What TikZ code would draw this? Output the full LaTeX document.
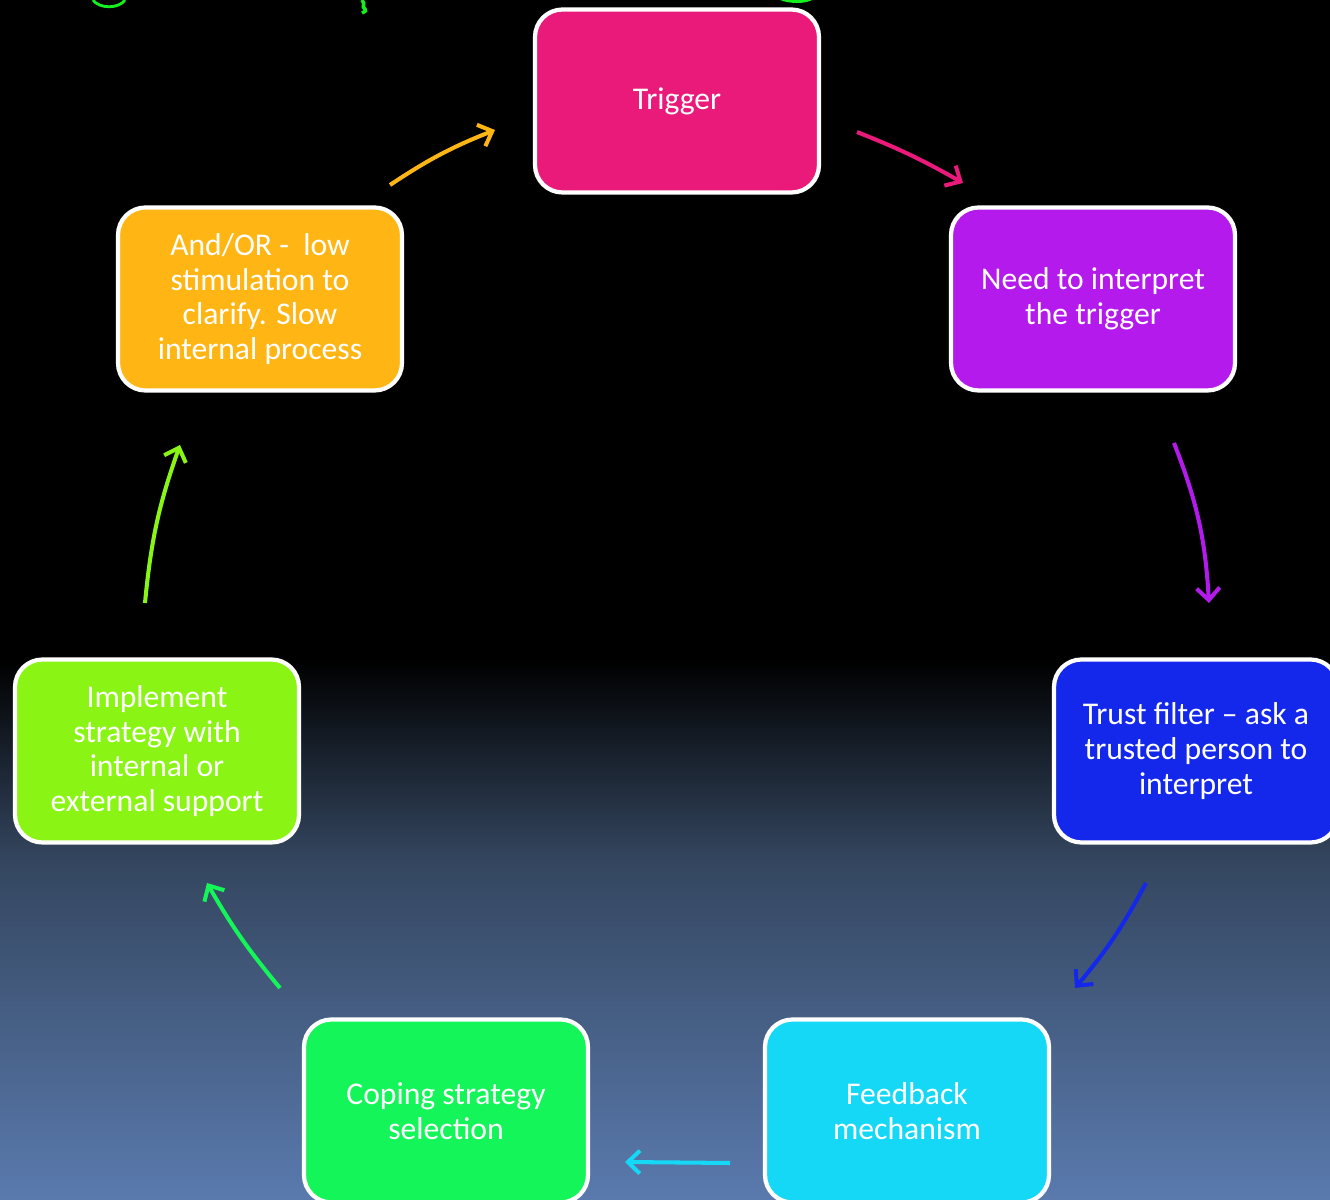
\documentclass[tikz,border=0pt]{standalone}
\usepackage{fontspec}
\setmainfont{Carlito}
\usepackage{xcolor}
\usetikzlibrary{arrows.meta}

\definecolor{trigcol}{HTML}{E91A7A}
\definecolor{needcol}{HTML}{B31AEB}
\definecolor{trustcol}{HTML}{1428EB}
\definecolor{feedcol}{HTML}{14D8F5}
\definecolor{copecol}{HTML}{14F55A}
\definecolor{implcol}{HTML}{8AF514}
\definecolor{andcol}{HTML}{FFB614}
\definecolor{bgmid}{HTML}{34465F}
\definecolor{bgbot}{HTML}{5A7AAE}
\definecolor{scribble}{HTML}{14F01E}

\begin{document}
\begin{tikzpicture}[box/.style={rectangle, rounded corners=0.55cm, draw=white, line width=2.4pt,
    minimum width=5.68cm, minimum height=3.66cm, align=center, text=white,
    font=\fontsize{18}{19.8}\selectfont},
  arr/.style={line width=2.3pt, -{Straight Barb[length=2.4mm,width=4.6mm]}}]
\useasboundingbox (0,0) rectangle (26.6,-24);
% background
\fill[black] (0,0) rectangle (26.6,-13.2);
\shade[top color=black, bottom color=bgmid] (0,-13.2) rectangle (26.6,-17.2);
\shade[top color=bgmid, bottom color=bgbot] (0,-17.19) rectangle (26.6,-24);

% scraps of green ink at the top edge
\draw[scribble, line width=1.6pt] (1.86,0) .. controls (1.98,-0.18) and (2.38,-0.18) .. (2.50,0);
\draw[scribble, line width=2pt] (7.24,0) .. controls (7.32,-0.08) and (7.22,-0.14) .. (7.30,-0.18) .. controls (7.32,-0.22) .. (7.24,-0.26);
\fill[scribble] (15.6,0) .. controls (15.8,-0.08) and (16.1,-0.08) .. (16.24,0) -- cycle;

\node[box, fill=trigcol] (trig) at (13.54,-2.02) {Trigger};
\node[box, fill=needcol] (need) at (21.86,-5.98) {Need to interpret\\the trigger};
\node[box, fill=trustcol] (trust) at (23.92,-15.02) {Trust filter -- ask a\\trusted person to\\interpret};
\node[box, fill=feedcol] (feed) at (18.14,-22.22) {Feedback\\mechanism};
\node[box, fill=copecol] (cope) at (8.92,-22.22) {Coping strategy\\selection};
\node[box, fill=implcol] (impl) at (3.14,-15.02) {Implement\\strategy with\\internal or\\external support};
\node[box, fill=andcol] (andor) at (5.20,-5.98) {And/OR -\ \ low\\stimulation to\\clarify. Slow\\internal process};

\coordinate (a1) at (7.80,-3.70);  \coordinate (a2) at (9.90,-2.60);
\coordinate (b1) at (17.14,-2.64); \coordinate (b2) at (19.26,-3.66);
\coordinate (c1) at (23.48,-8.86); \coordinate (c2) at (24.18,-12.06);
\coordinate (d1) at (22.92,-17.66); \coordinate (d2) at (21.50,-19.76);
\coordinate (e1) at (14.60,-23.26); \coordinate (e2) at (12.50,-23.24);
\coordinate (f1) at (5.60,-19.76); \coordinate (f2) at (4.14,-17.66);
\coordinate (g1) at (2.90,-12.06); \coordinate (g2) at (3.60,-8.90);

\draw[arr, andcol] (a1) to[bend left=6] (a2);
\draw[arr, trigcol] (b1) to[bend left=4] (b2);
\draw[arr, needcol] (c1) to[bend left=9] (c2);
\draw[arr, trustcol] (d1) to[bend left=6] (d2);
\draw[arr, feedcol] (e1) -- (e2);
\draw[arr, copecol] (f1) to[bend left=5] (f2);
\draw[arr, implcol] (g1) to[bend left=7] (g2);
\end{tikzpicture}
\end{document}
